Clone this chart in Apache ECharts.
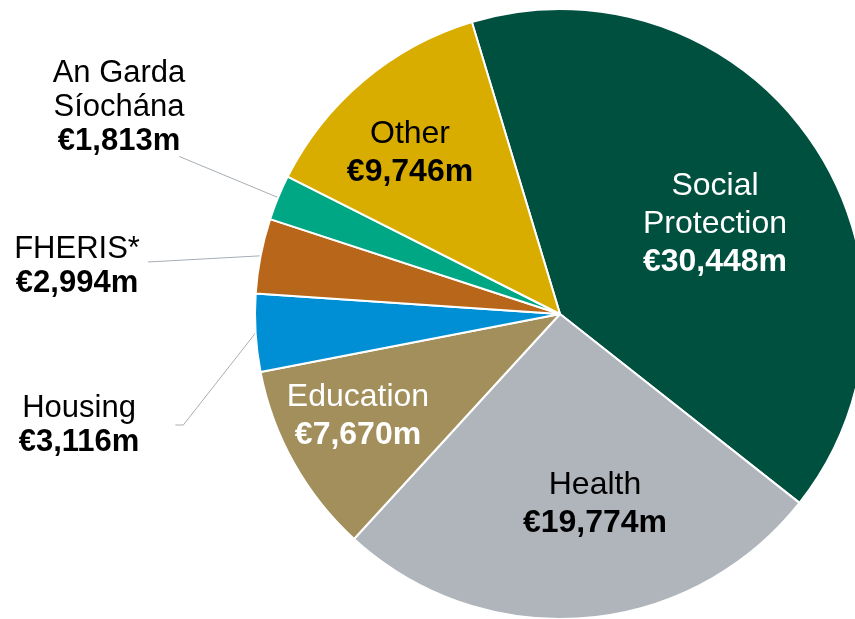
<!DOCTYPE html>
<html>
<head>
<meta charset="utf-8">
<script src="https://cdn.jsdelivr.net/npm/echarts@6/dist/echarts.min.js"></script>
<style>
	html, body { margin: 0; padding: 0; background: #fff; }
	#chart { width: 855px; height: 619px; }
</style>
</head>
<body>
<div id="chart"></div>
<script>
	/*数据*/
	var names = ['Social\nProtection', 'Health', 'Education', 'Housing', 'FHERIS*', 'An Garda\nSíochána', 'Other'];
	var values = [30448, 19774, 7670, 3116, 2994, 1813, 9746];
	var colors = ['#00503F', '#B0B5BC', '#A38F5C', '#008FD5', '#B86619', '#00A784', '#D9AC00'];
	var textColors = ['#fff', '#000', '#fff', '#000', '#000', '#000', '#000'];
	var outside = [false, false, false, true, true, true, false];
	// 标签中心位置
	var labelPos = [[715, 224], [595, 504], [358, 416], [79, 425], [77, 266], [119, 107], [410, 153]];
	// 引导线终点相对标签右侧的偏移 [dx, dy, 折线dx]
	var lineEnd = { 3: [36, 0, 44], 4: [8, -4, 8], 5: [-6, 0, -6] };

	function fmt(v) {
		return '€' + v.toString().replace(/\B(?=(\d{3})+(?!\d))/g, ',') + 'm';
	}

	var data = [];
	for(var i = 0; i < values.length; i++) {
		var big = !outside[i];
		var fs = big ? 32 : 31;
		data.push({
			name: names[i],
			value: values[i],
			itemStyle: { color: colors[i] },
			label: {
				position: big ? 'inside' : 'outside',
				formatter: '{n|{b}}\n{v|' + fmt(values[i]) + '}',
				rich: {
					n: { fontSize: fs, lineHeight: big ? 38 : 34, color: textColors[i], fontFamily: 'Liberation Sans' },
					v: { fontSize: fs, lineHeight: big ? 38 : 34, color: textColors[i], fontWeight: 'bold', fontFamily: 'Liberation Sans' }
				}
			},
			labelLine: { show: !big }
		});
	}

	var myChart = echarts.init(document.getElementById('chart'));
	myChart.setOption({
		animation: false,
		series: [{
			type: 'pie',
			center: [560, 314],
			radius: 305,
			startAngle: 106.8,
			clockwise: true,
			avoidLabelOverlap: false,
			itemStyle: { borderColor: '#fff', borderWidth: 2 },
			label: { show: true, align: 'center' },
			labelLine: {
				length: 20,
				length2: 8,
				lineStyle: { color: '#A6ADB4', width: 1 }
			},
			labelLayout: function(params) {
				var i = params.dataIndex;
				var p = labelPos[i];
				var res = { x: p[0], y: p[1], align: 'center', verticalAlign: 'middle' };
				var e = lineEnd[i];
				if(e && params.labelLinePoints) {
					var w = params.labelRect.width, h = params.labelRect.height;
					var right = p[0] + w / 2;
					var ey = i === 5 ? p[1] + h / 2 : p[1] + e[1];
					var start = params.labelLinePoints[0];
					res.labelLinePoints = [start, [right + e[2], ey], [right + e[0], ey]];
				}
				return res;
			},
			data: data
		}]
	});
</script>
</body>
</html>
